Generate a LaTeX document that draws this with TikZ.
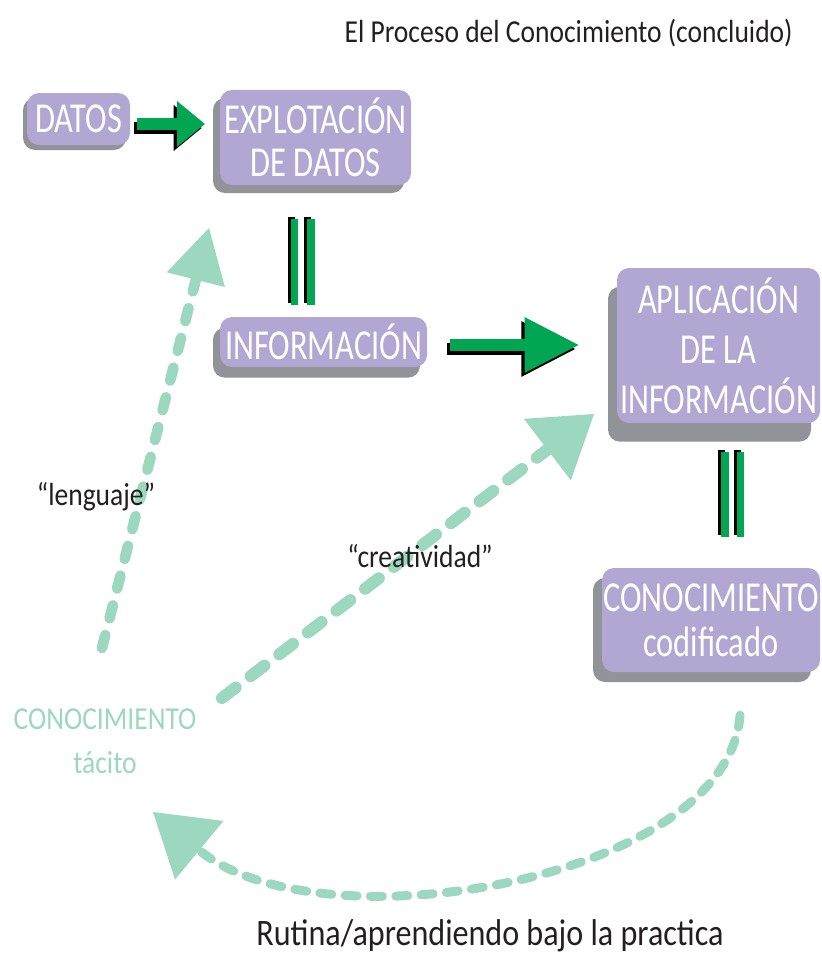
\documentclass[tikz,border=0pt]{standalone}
\usepackage{fontspec}
\setmainfont{Carlito}
\newfontfamily\boxfont[FakeStretch=0.76]{Carlito}
\newfontfamily\labelfont[FakeStretch=0.86]{Carlito}
\usetikzlibrary{arrows.meta,shadows}

\definecolor{boxpurple}{RGB}{178,167,211}
\definecolor{boxshade}{RGB}{146,147,152}
\definecolor{arrowgreen}{RGB}{0,166,81}
\definecolor{mint}{RGB}{156,215,191}
\definecolor{labelblack}{RGB}{35,31,32}

\tikzset{
  box/.style={fill=boxpurple, rounded corners=9pt, text=white, align=center, inner sep=0pt},
  boxshadow/.style 2 args={general shadow={fill=boxshade, shadow xshift=#1, shadow yshift=#2}},
  label/.style={text=labelblack, inner sep=0pt, font=\labelfont\fontsize{24}{26}\selectfont},
  greenarrow/.style={draw=arrowgreen, line width=9pt},
  blackshade/.style={draw=black, line width=9pt, transform canvas={shift={(-2.5pt,-3pt)}}},
  bar/.style={line width=5.5pt},
  mintline/.style={draw=mint, line cap=round}
}

\begin{document}
\begin{tikzpicture}[x=0.75pt,y=0.75pt,yscale=-1,xscale=1]
\useasboundingbox (0,0) rectangle (821,956);

% Title
\node[label, anchor=base east] (title) at (793,43) {El Proceso del Conocimiento (concluido)};

% Boxes
\node[box, boxshadow={-3pt}{-3.75pt}, minimum width=77.25pt, minimum height=39pt,
  font=\boxfont\fontsize{32}{33}\selectfont] (datos) at (78.5,119) {DATOS};
\node[box, boxshadow={-5.25pt}{-6pt}, minimum width=143.25pt, minimum height=71.25pt,
  font=\boxfont\fontsize{32}{32.25}\selectfont] (explot) at (315.5,137.5) {EXPLOTACIÓN\\DE DATOS};
\node[box, boxshadow={-5.25pt}{-8pt}, minimum width=155.25pt, minimum height=37.5pt,
  font=\boxfont\fontsize{32}{33}\selectfont] (info) at (323.5,342) {INFORMACIÓN};
\node[box, boxshadow={-6.75pt}{-14pt}, minimum width=152.25pt, minimum height=116.25pt,
  font=\boxfont\fontsize{32}{37.5}\selectfont] (aplic) at (718.5,345.5) {APLICACIÓN\\DE LA\\INFORMACIÓN};
\node[box, boxshadow={-6.75pt}{-7.5pt}, minimum width=163.5pt, minimum height=78pt,
  font=\boxfont\fontsize{32}{33.75}\selectfont] (codif) at (711,620) {CONOCIMIENTO\\codificado};

% Tacit knowledge
\node[text=mint, align=center, inner sep=0pt, font=\labelfont\fontsize{24}{33}\selectfont]
  (tacit) at (105,741) {CONOCIMIENTO\\tácito};

% Green block arrows
\coordinate (datosOut) at ([shift={(7,5)}]datos.east);
\draw[blackshade, shorten >=11pt, -{Triangle[length=21pt,width=33pt]}] (datosOut) -- (datosOut -| explot.west);
\draw[greenarrow, shorten >=11pt, -{Triangle[length=21pt,width=33pt]}] (datosOut) -- (datosOut -| explot.west);
\coordinate (infoOut) at ([shift={(23,3)}]info.east);
\draw[blackshade, shorten >=28pt, -{Triangle[length=41pt,width=39pt]}] (infoOut) -- (infoOut -| aplic.west);
\draw[greenarrow, shorten >=28pt, -{Triangle[length=41pt,width=39pt]}] (infoOut) -- (infoOut -| aplic.west);

% Double bars
\foreach \dx in {-15.75pt,-3.5pt}{
  \draw[bar, black, transform canvas={shift={(-2.5pt,1.5pt)}}, shorten <=25pt, shorten >=9pt]
    ([xshift=\dx]explot.south) -- ([xshift=\dx]explot.south |- info.north);
  \draw[bar, arrowgreen, shorten <=25pt, shorten >=9pt]
    ([xshift=\dx]explot.south) -- ([xshift=\dx]explot.south |- info.north);
}
\foreach \dx in {4.9pt,16.5pt}{
  \draw[bar, black, transform canvas={shift={(-2.5pt,1.5pt)}}, shorten <=21.75pt, shorten >=23.25pt]
    ([xshift=\dx]aplic.south) -- ([xshift=\dx]aplic.south |- codif.north);
  \draw[bar, arrowgreen, shorten <=21.75pt, shorten >=23.25pt]
    ([xshift=\dx]aplic.south) -- ([xshift=\dx]aplic.south |- codif.north);
}

% Mint dashed arrows
\coordinate (lengFrom) at (102,648);
\coordinate (lengTip) at (209,228);
\coordinate (creaFrom) at (222,698);
\coordinate (creaTip) at (594,414);
\coordinate (rutTip) at (153,812);
\draw[mintline, line width=8pt, dash pattern=on 10pt off 13pt,
  -{Triangle[length=40pt,width=45pt,line width=0pt]}] (lengFrom) -- (lengTip);
\draw[mintline, line width=9pt, dash pattern=on 13pt off 14pt,
  -{Triangle[length=44pt,width=58pt,line width=0pt]}] (creaFrom) -- (creaTip);
\draw[mintline, line width=6.75pt, dash pattern=on 9pt off 10pt,
  -{Triangle[length=45pt,width=57pt,line width=0pt]}]
  ([shift={(29,43)}]codif.south) .. controls (728,880) and (320,950) .. (rutTip);

% Labels
\node[label, anchor=base] (lenguaje) at (96,505) {“lenguaje”};
\node[label, anchor=base] (creatividad) at (420,567) {“creatividad”};
\node[label, anchor=base, font=\labelfont\fontsize{28}{30}\selectfont] (rutina) at (490,945) {Rutina/aprendiendo bajo la practica};

\end{tikzpicture}
\end{document}
